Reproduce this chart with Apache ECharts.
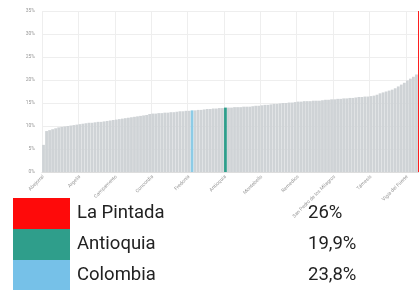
<!DOCTYPE html>
<html><head><meta charset="utf-8">
<script src="https://cdn.jsdelivr.net/npm/echarts@6/dist/echarts.min.js"></script>
<style>html,body{margin:0;padding:0;background:#fff;}#c{width:419px;height:290px;}</style>
</head><body><div id="c"></div>
<script>
// Categories (municipalities sorted by value, plus Colombia and Antioquia references)
const categories = ["Abejorral","Abriaquí","Alejandría","Amagá","Amalfi","Andes","Angelópolis","Angostura","Anorí","Anzá","Apartadó","Arboletes","Argelia","Armenia","Barbosa","Bello","Belmira","Betania","Betulia","Briceño","Buriticá","Cáceres","Caicedo","Caldas","Campamento","Cañasgordas","Caracolí","Caramanta","Carepa","Carolina del Príncipe","Caucasia","Chigorodó","Cisneros","Ciudad Bolívar","Cocorná","Concepción","Concordia","Copacabana","Dabeiba","Donmatías","Ebéjico","El Bagre","El Carmen de Viboral","El Peñol","El Retiro","El Santuario","Entrerríos","Envigado","Fredonia","Colombia","Frontino","Giraldo","Girardota","Gómez Plata","Granada","Guadalupe","Guarne","Guatapé","Heliconia","Hispania","Antioquia","Itagüí","Ituango","Jardín","Jericó","La Ceja","La Estrella","La Unión","Liborina","Maceo","Marinilla","Medellín","Montebello","Murindó","Mutatá","Nariño","Nechí","Necoclí","Olaya","Peque","Pueblorrico","Puerto Berrío","Puerto Nare","Puerto Triunfo","Remedios","Rionegro","Sabanalarga","Sabaneta","Salgar","San Andrés de Cuerquia","San Carlos","San Francisco","San Jerónimo","San José de la Montaña","San Juan de Urabá","San Luis","San Pedro de los Milagros","San Pedro de Urabá","San Rafael","San Roque","San Vicente Ferrer","Santa Bárbara","Santa Fe de Antioquia","Santa Rosa de Osos","Santo Domingo","Segovia","Sonsón","Sopetrán","Támesis","Tarazá","Tarso","Titiribí","Toledo","Turbo","Uramita","Urrao","Valdivia","Valparaíso","Vegachí","Venecia","Vigía del Fuerte","Yalí","Yarumal","Yolombó","La Pintada"];

// Bar values (%)
const values = [5.9,8.9,9.1,9.3,9.5,9.7,9.8,9.9,10.0,10.1,10.2,10.3,10.4,10.5,10.6,10.7,10.7,10.8,10.9,10.9,11.0,11.1,11.2,11.3,11.4,11.5,11.6,11.7,11.8,11.9,12.0,12.1,12.2,12.3,12.4,12.6,12.7,12.7,12.8,12.8,12.9,12.9,13.0,13.0,13.1,13.2,13.2,13.3,13.3,13.4,13.4,13.5,13.5,13.6,13.7,13.7,13.8,13.8,13.9,13.9,14.0,14.0,14.0,14.1,14.1,14.1,14.2,14.2,14.2,14.3,14.4,14.4,14.5,14.6,14.6,14.7,14.8,14.8,14.9,15.0,15.0,15.1,15.1,15.2,15.3,15.3,15.4,15.4,15.4,15.5,15.5,15.5,15.6,15.7,15.7,15.8,15.8,15.9,15.9,16.0,16.0,16.1,16.1,16.2,16.3,16.3,16.4,16.4,16.5,16.6,16.8,17.1,17.3,17.5,17.7,17.9,18.2,18.6,19.0,19.4,19.9,20.3,20.7,21.2,35.0];

// Highlighted categories and legend
const legendNames = ["La Pintada","Antioquia","Colombia"];
const legendValues = ["26%","19,9%","23,8%"];
const legendColors = ["#fe0a0a","#2f9e8b","#76c1e8"];
const barHighlight = {"La Pintada":"#fe0a0a","Antioquia":"#2f9e8b","Colombia":"#8ccbe6"};

// Y axis ticks
const yTicks = [0,5,10,15,20,25,30,35];

const chart = echarts.init(document.getElementById('c'), null, {renderer:'canvas'});
const barData = values.map((v,i)=>{
  const c = barHighlight[categories[i]];
  return c ? {value:v, itemStyle:{color:c}} : v;
});
const graphic = [];
legendNames.forEach((n,i)=>{
  const top = 198 + i*31;
  graphic.push({type:'rect', left:13, top:top, shape:{width:57,height:31}, style:{fill:legendColors[i]}, silent:true});
  graphic.push({type:'text', left:77, top:top+6, style:{text:n, font:'18.5px Roboto', fill:'#222'}});
  graphic.push({type:'text', left:308, top:top+6, style:{text:legendValues[i], font:'18.5px Roboto', fill:'#222'}});
});
chart.setOption({
  animation:false,
  grid:{left:42, width:379, top:11, bottom:118, containLabel:false, outerBoundsMode:'none'},
  xAxis:{
    type:'category', data:categories, boundaryGap:true,
    axisLine:{show:true, lineStyle:{color:'#ddd'}},
    axisTick:{show:false},
    axisLabel:{interval:11, rotate:45, fontSize:5, color:'#999', fontFamily:'Roboto', margin:4},
    splitLine:{show:true, interval:11, lineStyle:{color:'#eee', width:1}}
  },
  yAxis:{
    type:'value', min:yTicks[0], max:yTicks[yTicks.length-1], interval:5,
    axisLine:{show:false}, axisTick:{show:false},
    axisLabel:{formatter:'{value}%', fontSize:5, color:'#999', fontFamily:'Roboto', margin:7},
    splitLine:{lineStyle:{color:'#eee'}}
  },
  series:[{type:'bar', data:barData, barCategoryGap:'8%', itemStyle:{color:'#cfd3d6'}}],
  graphic:graphic
});
</script></body></html>
